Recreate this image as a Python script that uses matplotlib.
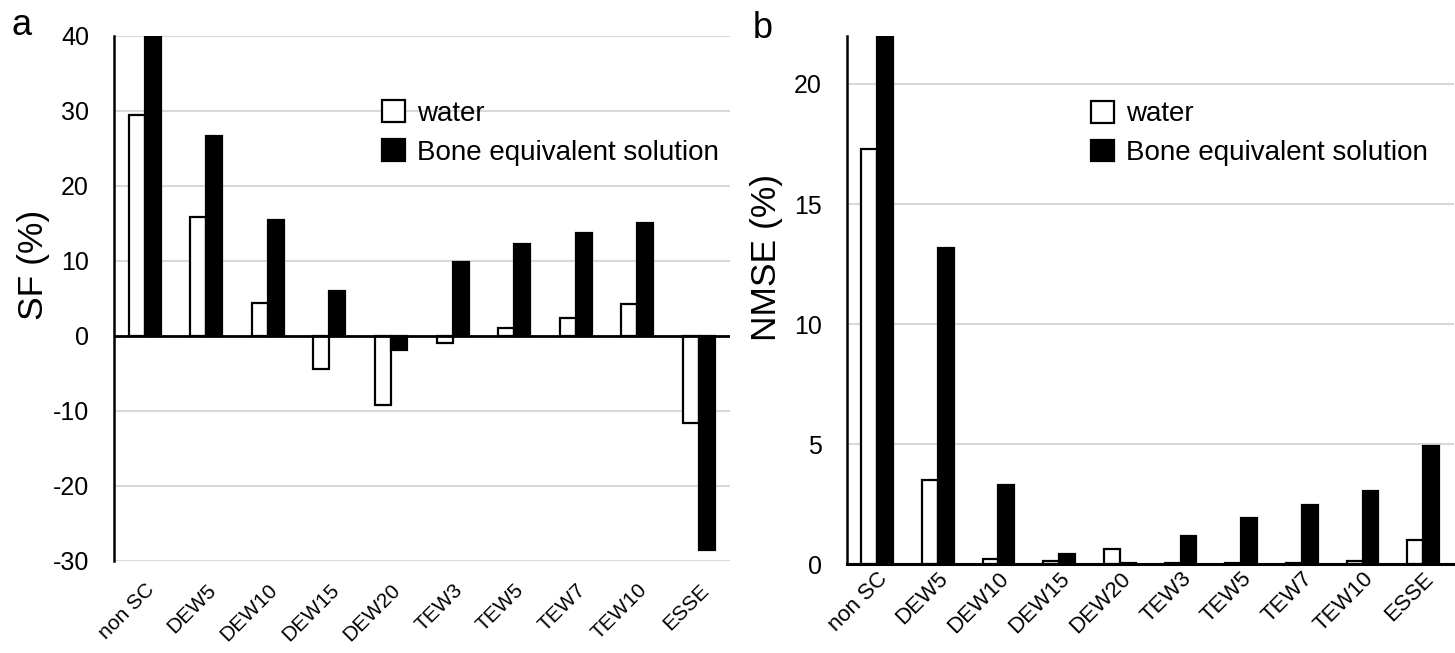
import matplotlib
matplotlib.use('Agg')
import matplotlib.pyplot as plt
import numpy as np
from matplotlib.patches import Patch

plt.rcParams['font.family'] = ['Liberation Sans', 'DejaVu Sans']
plt.rcParams['axes.unicode_minus'] = False

labels = ['non SC', 'DEW5', 'DEW10', 'DEW15', 'DEW20', 'TEW3', 'TEW5', 'TEW7', 'TEW10', 'ESSE']

# SF (%)
sf_water = [29.5, 15.8, 4.4, -4.4, -9.2, -1.0, 1.0, 2.4, 4.2, -11.6]
sf_bone = [39.8, 26.7, 15.5, 6.0, -1.9, 9.8, 12.3, 13.7, 15.1, -28.5]

# NMSE (%)
nmse_water = [17.3, 3.5, 0.2, 0.15, 0.64, 0.05, 0.05, 0.05, 0.15, 1.01]
nmse_bone = [22.0, 13.15, 3.3, 0.42, 0.05, 1.18, 1.93, 2.47, 3.05, 4.93]

fig = plt.figure(figsize=(14.55, 6.53), dpi=100)
ax1 = fig.add_axes([0.0784, 0.141, 0.423, 0.804])
ax2 = fig.add_axes([0.582, 0.136, 0.417, 0.809])

x = np.arange(len(labels))
w = 0.26
grid_c = '#d9d9d9'


def draw(ax, water, bone, xfs, xpad, leg_x):
    ax.bar(x - w / 2, water, w, color='white', edgecolor='black', linewidth=1.6, zorder=3)
    ax.bar(x + w / 2, bone, w, color='black', edgecolor='black', linewidth=1.6, zorder=3)
    ax.set_xlim(-0.5, len(labels) - 0.5)
    ax.set_xticks(x)
    ax.set_xticklabels(labels, rotation=45, ha='right', rotation_mode='anchor', fontsize=xfs)
    ax.tick_params(axis='both', length=0)
    ax.tick_params(axis='y', labelsize=18, pad=18)
    ax.tick_params(axis='x', pad=xpad)
    ax.yaxis.grid(True, color=grid_c, linewidth=1.5, zorder=0)
    ax.set_axisbelow(True)
    for s in ['top', 'right']:
        ax.spines[s].set_visible(False)
    ax.spines['left'].set_linewidth(1.8)
    ax.spines['left'].set_zorder(4)
    leg_handles = [Patch(facecolor='white', edgecolor='black', linewidth=1.6, label='water'),
                   Patch(facecolor='black', edgecolor='black', linewidth=1.6, label='Bone equivalent solution')]
    ax.legend(handles=leg_handles, loc='upper left', bbox_to_anchor=(leg_x, 0.877), frameon=False,
              fontsize=20, handlelength=0.83, handleheight=0.83, handletextpad=0.43, labelspacing=0.44,
              borderaxespad=0, borderpad=0)


draw(ax1, sf_water, sf_bone, 15, 14, 0.435)
ax1.set_ylim(-30, 40)
ax1.set_yticks([-30, -20, -10, 0, 10, 20, 30, 40])
ax1.spines['bottom'].set_visible(False)
ax1.axhline(0, color='black', linewidth=2, zorder=4)
ax1.set_ylabel('SF (%)', fontsize=25.5)
ax1.yaxis.set_label_coords(-0.104, 0.564)

draw(ax2, nmse_water, nmse_bone, 16, 3, 0.402)
ax2.set_ylim(0, 22)
ax2.set_yticks([0, 5, 10, 15, 20])
ax2.spines['bottom'].set_linewidth(2.2)
ax2.spines['bottom'].set_zorder(4)
ax2.set_ylabel('NMSE (%)', fontsize=25.5)
ax2.yaxis.set_label_coords(-0.105, 0.581)

fig.text(0.008, 0.946, 'a', fontsize=26, va='baseline')
fig.text(0.5175, 0.942, 'b', fontsize=26, va='baseline')

fig.savefig('out.png', dpi=100)
